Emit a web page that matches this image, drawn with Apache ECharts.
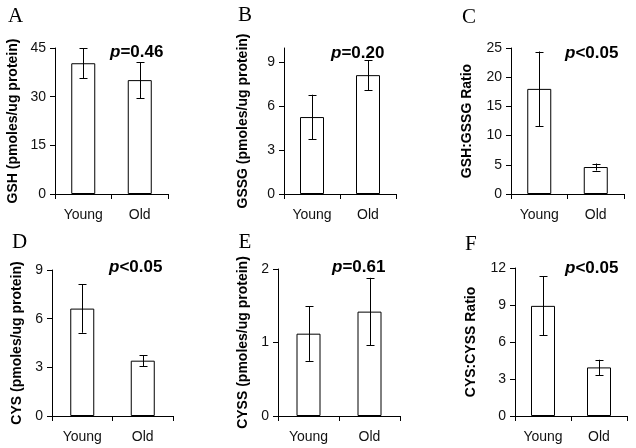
<!DOCTYPE html>
<html>
<head>
<meta charset="utf-8">
<script src="https://cdn.jsdelivr.net/npm/echarts@6/dist/echarts.min.js"></script>
<style>
html,body{margin:0;padding:0;background:#fff;}
#c{width:636px;height:448px;}
</style>
</head>
<body>
<div id="c"></div>
<script>
var categories = ['Young', 'Old'];

var gshMean = [40.3, 35.1];
var gshErr = [4.7, 5.55];
var gshTicks = [0, 15, 30, 45];

var gssgMean = [5.27, 8.14];
var gssgErr = [1.53, 1.02];
var gssgTicks = [0, 3, 6, 9];

var gshGssgMean = [18.0, 4.62];
var gshGssgErr = [6.4, 0.6];
var gshGssgTicks = [0, 5, 10, 15, 20, 25];

var cysMean = [6.62, 3.41];
var cysErr = [1.49, 0.35];
var cysTicks = [0, 3, 6, 9];

var cyssMean = [1.12, 1.42];
var cyssErr = [0.37, 0.46];
var cyssTicks = [0, 1, 2];

var cysCyssMean = [8.93, 3.94];
var cysCyssErr = [2.4, 0.62];
var cysCyssTicks = [0, 3, 6, 9, 12];

var panelLetters = ['A', 'B', 'C', 'D', 'E', 'F'];
var pLabels = ['=0.46', '=0.20', '<0.05', '<0.05', '=0.61', '<0.05'];
var yNames = ['GSH (pmoles/ug protein)', 'GSSG (pmoles/ug protein)', 'GSH:GSSG Ratio',
              'CYS (pmoles/ug protein)', 'CYSS (pmoles/ug protein)', 'CYS:CYSS Ratio'];

var panels = [
  {mean: gshMean, err: gshErr, ticks: gshTicks, max: 45},
  {mean: gssgMean, err: gssgErr, ticks: gssgTicks, max: 10},
  {mean: gshGssgMean, err: gshGssgErr, ticks: gshGssgTicks, max: 25},
  {mean: cysMean, err: cysErr, ticks: cysTicks, max: 9},
  {mean: cyssMean, err: cyssErr, ticks: cyssTicks, max: 2},
  {mean: cysCyssMean, err: cysCyssErr, ticks: cysCyssTicks, max: 12}
];

// layout (positions/sizes)
var gridRects = [
  {left: 55, top: 48, width: 113, height: 146},
  {left: 284, top: 48, width: 112, height: 146},
  {left: 511, top: 48, width: 113, height: 146},
  {left: 52, top: 270, width: 121, height: 146},
  {left: 278, top: 269, width: 122, height: 147},
  {left: 515, top: 268, width: 112, height: 148}
];
var nameGaps = [35, 34, 37, 28, 28, 37];
var letterPos = [[8, 16.5], [238, 16.3], [462, 18.3], [12, 243.2], [238.5, 243.2], [465, 245.2]];
var pPos = [[110, 52.6], [331, 54], [565, 54.2], [109, 268.2], [332, 268.2], [565, 269.2]];

var FONT = '"Liberation Sans", Arial, sans-serif';
var grids = [], xAxes = [], yAxes = [], series = [], graphics = [];

panels.forEach(function (p, i) {
  grids.push(Object.assign({containLabel: false}, gridRects[i]));
  xAxes.push({
    type: 'category', gridIndex: i, data: categories, boundaryGap: true,
    axisLine: {lineStyle: {color: '#000', width: 1}},
    axisTick: {show: true, alignWithLabel: false, length: 5, lineStyle: {color: '#000'}},
    axisLabel: {color: '#111', fontSize: 14, fontFamily: FONT, margin: 14}
  });
  yAxes.push({
    type: 'value', gridIndex: i, min: 0, max: p.max,
    name: yNames[i], nameLocation: 'middle', nameGap: nameGaps[i],
    nameTextStyle: {color: '#000', fontSize: 14, fontWeight: 'bold', fontFamily: FONT},
    axisLine: {show: true, lineStyle: {color: '#000', width: 1}},
    axisTick: {show: true, length: 5, lineStyle: {color: '#000'}, customValues: p.ticks},
    axisLabel: {color: '#111', fontSize: 14, fontFamily: FONT, margin: 9, customValues: p.ticks},
    splitLine: {show: false}
  });
  series.push({
    type: 'bar', xAxisIndex: i, yAxisIndex: i, data: p.mean, barWidth: 24,
    itemStyle: {color: '#fff', borderColor: '#000', borderWidth: 1},
    silent: true, animation: false
  });
  var errData = p.mean.map(function (m, k) { return [k, m - p.err[k], m + p.err[k]]; });
  series.push({
    type: 'custom', xAxisIndex: i, yAxisIndex: i, data: errData, animation: false, silent: true,
    z: 5,
    renderItem: function (params, api) {
      var x = api.value(0);
      var lo = api.coord([x, api.value(1)]);
      var hi = api.coord([x, api.value(2)]);
      var cx = Math.round(lo[0]) + 0.5;
      var hw = 4;
      var style = {stroke: '#000', lineWidth: 1};
      return {
        type: 'group',
        children: [
          {type: 'line', shape: {x1: cx, y1: hi[1], x2: cx, y2: lo[1]}, style: style},
          {type: 'line', shape: {x1: cx - hw, y1: Math.round(hi[1]) + 0.5, x2: cx + hw, y2: Math.round(hi[1]) + 0.5}, style: style},
          {type: 'line', shape: {x1: cx - hw, y1: Math.round(lo[1]) + 0.5, x2: cx + hw, y2: Math.round(lo[1]) + 0.5}, style: style}
        ]
      };
    }
  });
  graphics.push({
    type: 'text', left: letterPos[i][0], top: letterPos[i][1] - 11,
    style: {text: panelLetters[i], fill: '#000', font: '21px "Liberation Serif", "Times New Roman", serif'}
  });
  graphics.push({
    type: 'text', left: pPos[i][0], top: pPos[i][1] - 9,
    style: {
      text: '{i|p}{b|' + pLabels[i] + '}',
      rich: {
        i: {fontSize: 17, fontStyle: 'italic', fontWeight: 'bold', fontFamily: FONT, fill: '#000', color: '#000'},
        b: {fontSize: 17, fontWeight: 'bold', fontFamily: FONT, fill: '#000', color: '#000'}
      }
    }
  });
});

var chart = echarts.init(document.getElementById('c'), null, {renderer: 'canvas'});
chart.setOption({
  backgroundColor: '#fff',
  animation: false,
  grid: grids,
  xAxis: xAxes,
  yAxis: yAxes,
  series: series,
  graphic: graphics
});
</script>
</body>
</html>
